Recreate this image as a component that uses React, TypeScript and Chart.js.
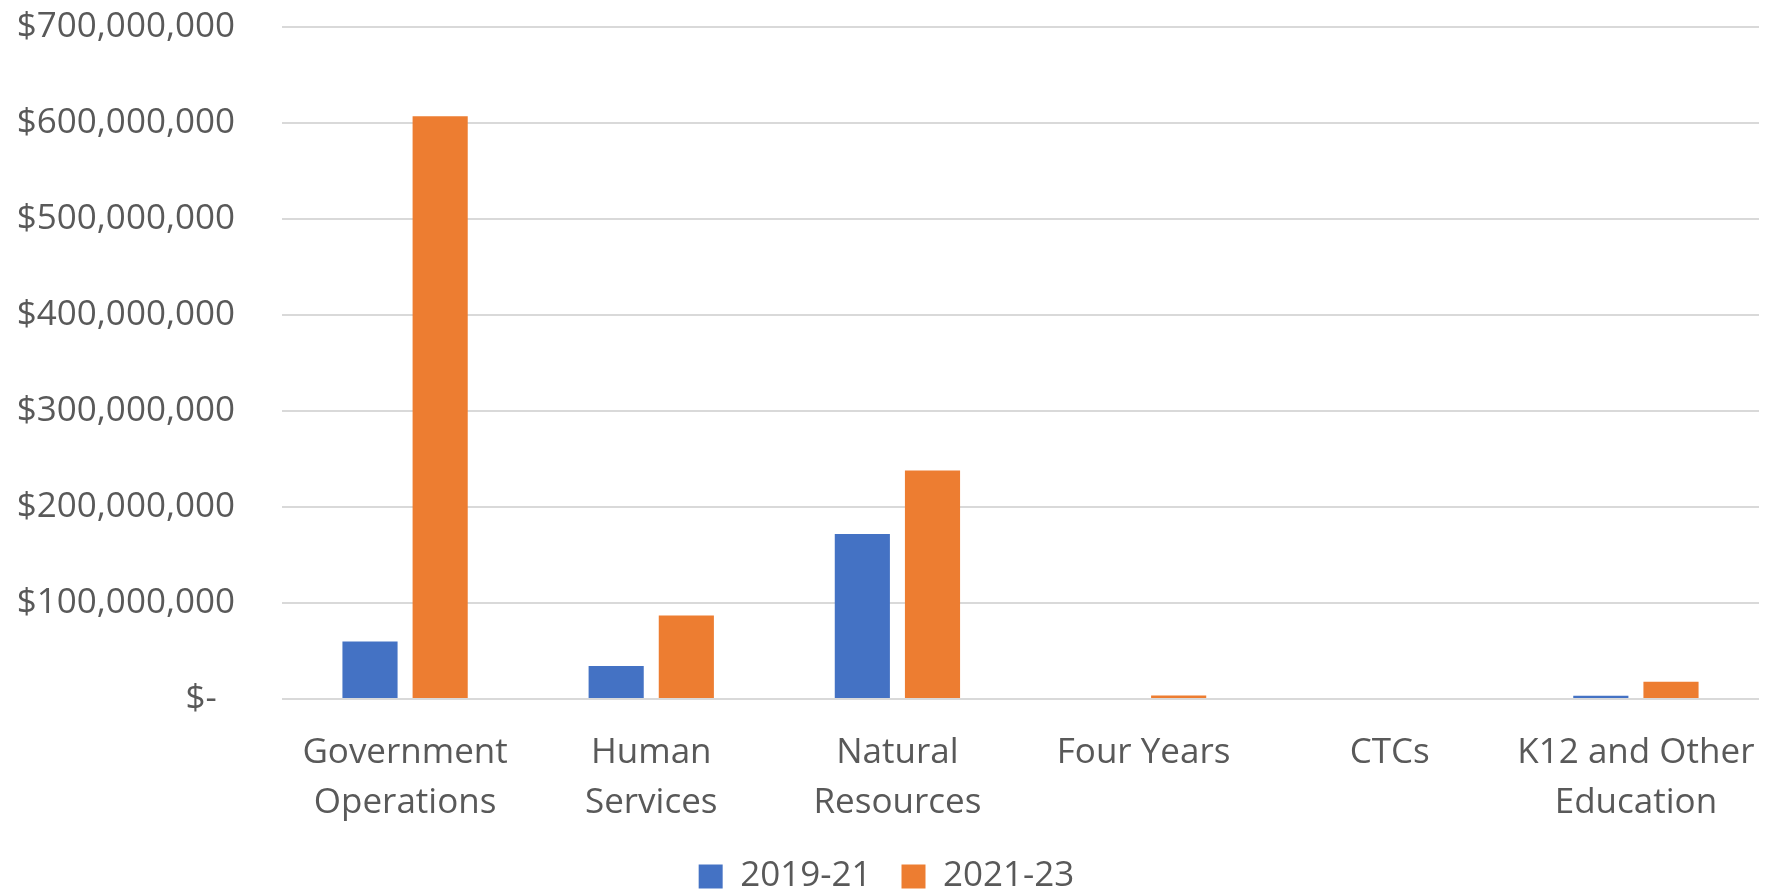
import React, { useEffect, useRef } from "react";
import { Chart, registerables } from "chart.js";

Chart.register(...registerables);

const categories: string[][] = [
  ["Government", "Operations"],
  ["Human", "Services"],
  ["Natural", "Resources"],
  ["Four Years"],
  ["CTCs"],
  ["K12 and Other", "Education"],
];
const series2019: number[] = [60000000, 34500000, 172000000, 0, 0, 3500000];
const series2021: number[] = [607000000, 87000000, 238000000, 3600000, 0, 18000000];
const seriesNames: string[] = ["2019-21", "2021-23"];
const yTickMax = 700000000;
const yTickStep = 100000000;

const FONT = "'Open Sans', 'Liberation Sans', sans-serif";
const TEXT = "#595959";

export default function App() {
  const ref = useRef<HTMLCanvasElement | null>(null);
  useEffect(() => {
    document.body.style.margin = "0";
    const ctx = ref.current!;
    const chart = new Chart(ctx, {
      type: "bar",
      data: {
        labels: categories,
        datasets: [
          {
            label: seriesNames[0],
            data: series2019,
            backgroundColor: "#4472C4",
            categoryPercentage: 0.57,
            barPercentage: 0.786,
          },
          {
            label: seriesNames[1],
            data: series2021,
            backgroundColor: "#ED7D31",
            categoryPercentage: 0.57,
            barPercentage: 0.786,
          },
        ],
      },
      options: {
        animation: false,
        responsive: false,
        maintainAspectRatio: false,
        layout: { padding: { left: 14, right: 12, top: 0, bottom: 0 } },
        plugins: {
          tooltip: { enabled: false },
          legend: {
            position: "bottom",
            maxHeight: 62,
            labels: {
              font: { family: FONT, size: 35 },
              color: TEXT,
              boxWidth: 24,
              boxHeight: 24,
              padding: 30,
            },
          },
        },
        scales: {
          x: {
            grid: { display: false },
            border: { display: false },
            afterFit: (s: any) => {
              s.height = 130;
              s.paddingLeft = 0;
              s.paddingRight = 0;
            },
            ticks: {
              font: { family: FONT, size: 35, lineHeight: 1.42 },
              color: TEXT,
              padding: 21,
              maxRotation: 0,
              autoSkip: false,
            },
          },
          y: {
            min: 0,
            max: yTickMax,
            border: { display: false },
            grid: { color: "#d9d9d9", lineWidth: 2, drawTicks: false },
            afterFit: (s: any) => {
              s.width = 268;
              s.paddingTop = 27;
            },
            ticks: {
              stepSize: yTickStep,
              font: { family: FONT, size: 35 },
              color: TEXT,
              padding: 47,
              callback: (v: any) =>
                Number(v) === 0 ? "$-  " : "$" + Number(v).toLocaleString("en-US"),
            },
          },
        },
      },
    });
    return () => chart.destroy();
  }, []);
  return (
    <div style={{ width: 1771, height: 891 }}>
      <canvas ref={ref} width={1771} height={891} style={{ display: "block" }} />
    </div>
  );
}
